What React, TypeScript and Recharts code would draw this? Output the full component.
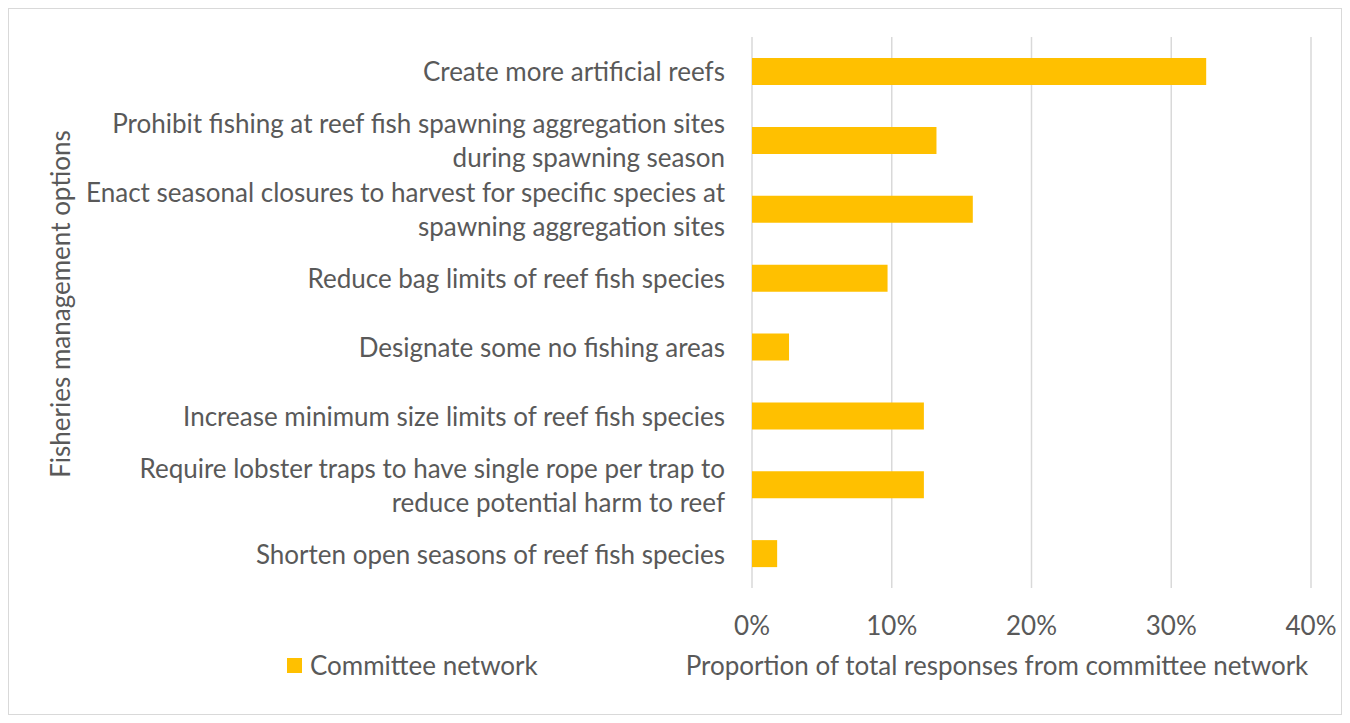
import { BarChart, Bar, XAxis, YAxis, CartesianGrid, Legend } from 'recharts';

const categories = [
  'Create more artificial reefs',
  'Prohibit fishing at reef fish spawning aggregation sites\nduring spawning season',
  'Enact seasonal closures to harvest for specific species at\nspawning aggregation sites',
  'Reduce bag limits of reef fish species',
  'Designate some no fishing areas',
  'Increase minimum size limits of reef fish species',
  'Require lobster traps to have single rope per trap to\nreduce potential harm to reef',
  'Shorten open seasons of reef fish species',
];
const committeeNetwork = [0.325, 0.132, 0.158, 0.097, 0.0265, 0.123, 0.123, 0.018];
const xTicks = [0, 0.1, 0.2, 0.3, 0.4];

const seriesName = 'Committee network';
const xTitle = 'Proportion of total responses from committee network';
const yTitle = 'Fisheries management options';

const FONT = 'Lato, "Open Sans", sans-serif';
const FS = 26;
const TEXT = '#595959';
const GOLD = '#FFC000';

const chartData = categories.map((c, i) => ({ name: c, value: committeeNetwork[i] }));

const CategoryTick = ({ x, y, payload }: any) => {
  const lines = String(payload.value).split('\n');
  const lh = 34;
  const start = y - ((lines.length - 1) * lh) / 2;
  return (
    <text x={x - 27} y={start} textAnchor="end" fill={TEXT} fontSize={FS} fontFamily={FONT}>
      {lines.map((l, i) => (
        <tspan key={i} x={x - 27} y={start + i * lh} dominantBaseline="central">
          {l}
        </tspan>
      ))}
    </text>
  );
};

const PctTick = ({ x, y, payload }: any) => (
  <text x={x} y={y + 37} textAnchor="middle" dominantBaseline="central" fill={TEXT} fontSize={FS} fontFamily={FONT}>
    {Math.round(payload.value * 100)}%
  </text>
);

const LegendBox = () => (
  <div style={{ display: 'flex', alignItems: 'center', fontFamily: FONT, fontSize: FS, color: TEXT }}>
    <span style={{ width: 15, height: 15, background: GOLD, display: 'inline-block', marginRight: 8 }} />
    {seriesName}
  </div>
);

export default function App() {
  return (
    <div
      style={{
        position: 'relative',
        width: 1334,
        height: 707,
        border: '1px solid #d9d9d9',
        boxSizing: 'border-box',
        background: '#fff',
      }}
    >
      <BarChart
        width={1332}
        height={705}
        data={chartData}
        layout="vertical"
        barSize={27}
        margin={{ top: 28, right: 30, bottom: 86, left: 0 }}
      >
        <CartesianGrid horizontal={false} stroke="#d9d9d9" strokeWidth={1.5} />
        <XAxis
          type="number"
          domain={[0, 0.4]}
          ticks={xTicks}
          axisLine={false}
          tickLine={false}
          tickSize={0}
          tickMargin={0}
          height={40}
          tick={<PctTick />}
          label={{
            content: () => (
              <text x={988} y={656} textAnchor="middle" dominantBaseline="central" fill={TEXT} fontSize={FS} fontFamily={FONT}>
                {xTitle}
              </text>
            ),
          }}
        />
        <YAxis
          type="category"
          dataKey="name"
          width={743}
          axisLine={false}
          tickLine={false}
          tickSize={0}
          tickMargin={0}
          interval={0}
          tick={<CategoryTick />}
          label={{
            content: () => (
              <text
                x={51}
                y={295}
                transform="rotate(-90 51 295)"
                textAnchor="middle"
                dominantBaseline="central"
                fill={TEXT}
                fontSize={FS}
                fontFamily={FONT}
              >
                {yTitle}
              </text>
            ),
          }}
        />
        <Legend
          layout="horizontal"
          verticalAlign="middle"
          align="center"
          content={<LegendBox />}
          wrapperStyle={{ position: 'absolute', left: 278, top: 640, width: 320 }}
        />
        <Bar dataKey="value" name={seriesName} fill={GOLD} isAnimationActive={false} />
      </BarChart>
    </div>
  );
}
